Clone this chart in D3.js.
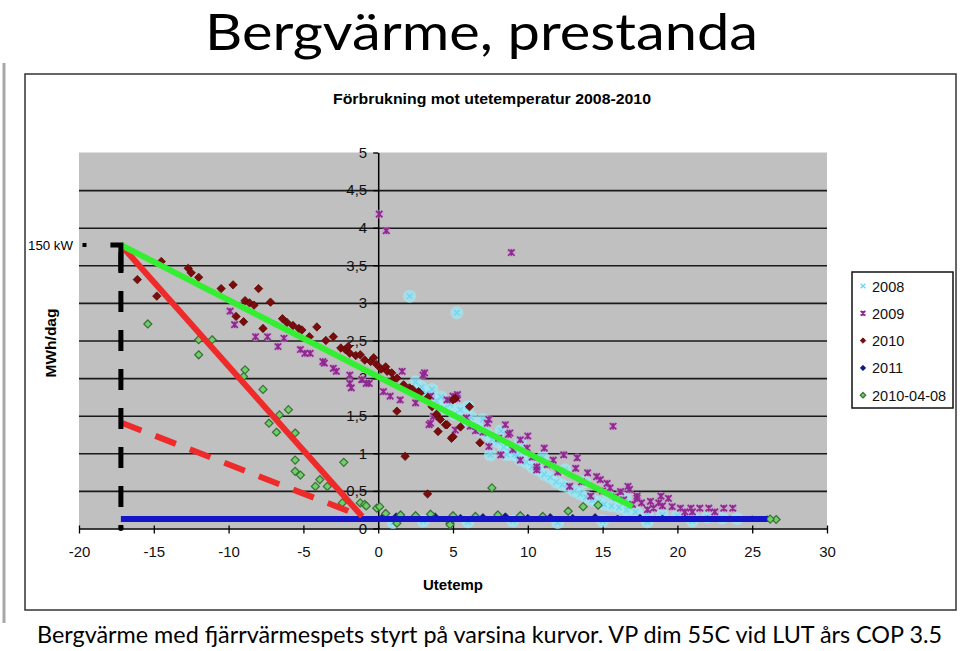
<!DOCTYPE html>
<html><head><meta charset="utf-8">
<script src="https://cdn.jsdelivr.net/npm/d3@7"></script>
<style>body{margin:0;background:#fff}svg{display:block}</style>
</head><body><svg id="c" width="960" height="651"></svg>
<script>
// ---------- data ----------
const slideTitle = "Bergvärme, prestanda";
const chartTitle = "Förbrukning mot utetemperatur 2008-2010";
const caption = "Bergvärme med fjärrvärmespets styrt på varsina kurvor. VP dim 55C vid LUT  års COP 3.5";
const xLabel = "Utetemp";
const yLabel = "MWh/dag";
const capLabel = "150 kW";
const xTicks = [-20,-15,-10,-5,0,5,10,15,20,25,30];
const yTicks = [0,0.5,1,1.5,2,2.5,3,3.5,4,4.5,5];
const gridTicks = [0.5,1,1.5,2,2.5,3,3.5,4,4.5];
const seriesNames = ["2008","2009","2010","2011","2010-04-08"];

const s2008 = [[2.1,3.09],[5.26,2.87],[2.5,1.95],[2.9,1.88],[3.2,1.80],[3.6,1.85],[3.9,1.70],[4.2,1.75],[4.4,1.60],[4.8,1.65],[5.1,1.52],[5.5,1.58],[5.8,1.42],[6.2,1.48],[6.5,1.35],[6.9,1.30],[7.3,1.25],[7.6,1.18],[8.0,1.15],[8.4,1.08],[8.8,1.02],[9.1,0.98],[9.5,0.92],[9.9,0.88],[10.3,0.82],[10.7,0.78],[11.1,0.72],[11.5,0.68],[11.9,0.62],[12.3,0.58],[12.7,0.55],[13.1,0.50],[13.5,0.46],[13.9,0.42],[14.3,0.38],[14.7,0.35],[15.1,0.32],[15.6,0.30],[16.1,0.28],[16.6,0.25],[17.2,0.22],[18.0,0.20],[19.0,0.18],[20.0,0.17],[21.0,0.16],[22.0,0.15],[23.0,0.14],[24.0,0.13],[1.0,0.08],[3.0,0.10],[6.0,0.09],[9.0,0.10],[12.0,0.08],[15.0,0.10],[18.0,0.09],[21.0,0.10],[7.5,0.98],[8.6,0.98],[9.3,0.97],[6.0,1.62],[7.0,1.45],[8.2,1.30],[9.5,1.15],[11.0,0.95],[12.5,0.78],[13.8,0.62],[15.3,0.48],[16.5,0.40]];
const s2009 = [[0.07,4.18],[0.54,3.96],[8.9,3.67],[15.7,1.36],[-9.9,2.89],[-9.6,2.71],[-8.2,2.55],[-7.4,2.55],[-6.7,2.42],[-6.3,2.53],[-5.2,2.38],[-4.9,2.33],[-4.55,2.33],[-3.7,2.22],[-3.6,2.20],[-3.0,2.13],[-2.8,2.09],[-1.9,1.93],[-1.9,2.04],[-1.8,1.87],[-1.1,1.98],[-0.8,1.93],[-0.6,1.93],[0.35,1.82],[0.8,1.76],[1.47,1.71],[1.6,2.09],[2.5,1.67],[3.0,2.04],[3.1,2.07],[3.4,1.38],[3.5,1.76],[3.5,1.40],[3.7,1.49],[4.6,1.71],[5.0,1.76],[5.15,1.31],[5.26,1.73],[5.3,1.78],[5.9,1.47],[6.15,1.36],[7.3,1.40],[7.4,1.45],[7.4,1.09],[8.05,1.20],[8.2,0.98],[8.5,1.38],[8.7,1.25],[8.8,1.27],[9.5,1.18],[9.5,0.91],[10.0,1.23],[9.95,1.07],[10.6,0.82],[10.6,0.78],[11.1,1.07],[11.7,0.91],[12.4,0.98],[12.8,0.56],[13.3,0.94],[13.2,0.80],[14.0,0.74],[14.2,0.43],[14.6,0.69],[14.85,0.65],[15.3,0.60],[15.5,0.54],[16.2,0.49],[16.7,0.56],[16.8,0.52],[17.3,0.43],[17.3,0.40],[17.6,0.34],[18.0,0.25],[18.2,0.36],[18.4,0.27],[18.75,0.34],[18.9,0.43],[19.4,0.40],[19.65,0.29],[20.2,0.27],[20.9,0.27],[21.5,0.27],[22.1,0.27],[23.1,0.27],[23.7,0.27],[6.5,1.30],[7.0,1.28],[9.0,1.05],[10.3,0.95],[11.3,0.85],[12.0,0.75],[13.6,0.62],[15.0,0.50],[15.9,0.42],[16.4,0.38],[17.0,0.32],[19.0,0.30],[20.5,0.22],[21.0,0.22],[22.5,0.22]];
const s2010 = [[-16.1,3.31],[-14.5,3.55],[-14.8,3.09],[-12.7,3.46],[-12.5,3.40],[-12.0,3.34],[-10.5,3.19],[-9.7,3.24],[-8.0,3.19],[-8.9,3.03],[-8.6,3.00],[-8.3,2.97],[-7.2,3.01],[-9.5,2.82],[-9.0,2.75],[-7.7,2.66],[-6.4,2.79],[-6.1,2.74],[-5.7,2.70],[-5.3,2.66],[-5.1,2.64],[-4.1,2.68],[-4.6,2.55],[-3.5,2.50],[-3.0,2.55],[-2.5,2.40],[-2.2,2.38],[-2.0,2.42],[-1.9,2.33],[-1.5,2.30],[-1.2,2.31],[-0.9,2.24],[-0.5,2.22],[-0.3,2.27],[-0.1,2.18],[0.2,2.12],[0.5,2.15],[0.6,2.09],[0.9,2.07],[1.0,1.98],[1.25,2.00],[1.7,1.91],[2.1,1.87],[2.3,1.85],[2.7,1.82],[2.8,1.80],[3.3,1.74],[3.6,1.62],[3.9,1.52],[1.25,1.56],[4.0,1.29],[4.5,1.38],[4.9,1.20],[5.0,1.22],[5.15,1.73],[5.0,1.71],[5.5,1.35],[6.1,1.62],[6.8,1.14],[1.8,0.96],[4.15,1.45],[4.6,1.38],[3.3,0.46]];
const s2011 = [[0.3,0.16],[1.2,0.17],[2.5,0.15],[3.8,0.17],[5.5,0.15],[7.0,0.16],[8.5,0.17],[10.0,0.15],[11.5,0.16],[13.0,0.15],[14.5,0.16],[16.0,0.14],[17.5,0.15],[19.0,0.14],[20.5,0.14],[22.0,0.13],[23.5,0.13],[25.0,0.13],[26.0,0.13]];
const s20100408 = [[-15.4,2.72],[-12.0,2.51],[-11.1,2.51],[-12.0,2.31],[-8.9,2.11],[-9.0,2.02],[-7.7,1.85],[-6.0,1.58],[-6.6,1.51],[-7.3,1.40],[-6.8,1.28],[-5.55,1.27],[-5.55,0.91],[-5.55,0.76],[-5.2,0.71],[-2.3,0.88],[-3.9,0.65],[-4.2,0.56],[-3.4,0.56],[-2.4,0.34],[-1.2,0.34],[-0.9,0.32],[-0.1,0.27],[0.1,0.29],[-0.8,0.30],[1.25,0.07],[4.8,0.07],[7.6,0.54],[13.7,0.29],[14.7,0.31],[12.7,0.23],[4.8,0.05],[26.6,0.12],[26.2,0.125],[0.5,0.20],[1.5,0.18],[2.5,0.17],[3.5,0.19],[5.0,0.17],[6.5,0.16],[8.0,0.18],[9.5,0.17],[11.0,0.16]];

// annotation lines (temperature, MWh/dag)
const capLine = [[-17.9,3.77],[-17.2,3.77],[-17.2,3.42]];
const capDashLine = [[-17.2,3.77],[-17.2,0]];
const greenLine = [[-17.2,3.77],[17.0,0.29]];
const redLine = [[-17.2,3.77],[-1.07,0.16]];
const redDashLine = [[-17.2,1.41],[-1.07,0.16]];
const blueLine = [[-17.2,0.125],[26.0,0.125]];
const capMarker = [-19.8,3.77];

// ---------- drawing ----------
const svg = d3.select("#c");
const F = "'Liberation Sans', Arial, sans-serif";
const plot = {l:79, r:827, t:152.5, b:528.5};
const x = d3.scaleLinear().domain([-20,30]).range([plot.l, plot.r]);
const y = d3.scaleLinear().domain([0,5]).range([plot.b, plot.t]);

svg.append("rect").attr("width",960).attr("height",651).attr("fill","#fff");
svg.append("line").attr("x1",4).attr("x2",4).attr("y1",63).attr("y2",623)
  .attr("stroke","#a8a8a8").attr("stroke-width",3);

// slide title
svg.append("text").text(slideTitle).attr("x",205).attr("y",49.5)
  .attr("font-family","Lato, 'Open Sans', sans-serif").attr("font-size",50)
  .attr("textLength",553).attr("lengthAdjust","spacingAndGlyphs").attr("fill","#000");

// chart frame
svg.append("rect").attr("x",25).attr("y",74).attr("width",931).attr("height",536)
  .attr("fill","#fff").attr("stroke","#333").attr("stroke-width",1.5);

svg.append("text").text(chartTitle).attr("x",333).attr("y",104)
  .attr("font-family",F).attr("font-weight","bold").attr("font-size",15)
  .attr("textLength",318).attr("lengthAdjust","spacingAndGlyphs");

// plot area
svg.append("rect").attr("x",plot.l).attr("y",plot.t).attr("width",plot.r-plot.l).attr("height",plot.b-plot.t)
  .attr("fill","#c0c0c0");

// gridlines
const grid = svg.append("g").attr("transform",`translate(${plot.l},0)`)
  .call(d3.axisLeft(y).tickValues(gridTicks).tickSize(-(plot.r-plot.l)).tickFormat(""));
grid.select(".domain").remove();
grid.selectAll("line").attr("stroke","#1a1a1a").attr("stroke-width",1.6);

// y axis at x = 0
const yAx = svg.append("g").attr("transform",`translate(${x(0)},0)`)
  .call(d3.axisLeft(y).tickValues(yTicks).tickSize(5).tickSizeOuter(0).tickPadding(6)
    .tickFormat(d => String(d).replace(".", ",")));
yAx.select(".domain").attr("stroke","#000").attr("stroke-width",1.5);
yAx.selectAll("line").attr("stroke","#000").attr("stroke-width",1.3);
yAx.selectAll("text").attr("font-family",F).attr("font-size",15).attr("fill","#111");

// x axis at y = 0
const xAx = svg.append("g").attr("transform",`translate(0,${y(0)})`)
  .call(d3.axisBottom(x).tickValues(xTicks).tickSize(5).tickSizeOuter(0).tickPadding(13)
    .tickFormat(d => String(d)));
xAx.select(".domain").attr("stroke","#000").attr("stroke-width",1.6);
xAx.selectAll("line").attr("y1",-3).attr("stroke","#000").attr("stroke-width",1.3);
xAx.selectAll("text").attr("font-family",F).attr("font-size",15).attr("fill","#111");

// symbol types
const symX = {draw(c,s){const r=Math.sqrt(s)/2;c.moveTo(-r,-r);c.lineTo(r,r);c.moveTo(r,-r);c.lineTo(-r,r);}};
const symStar = {draw(c,s){const r=Math.sqrt(s)/2;c.moveTo(-r,-r);c.lineTo(r,r);c.moveTo(r,-r);c.lineTo(-r,r);c.moveTo(0,-r);c.lineTo(0,r);}};
const symDiamond = {draw(c,s){const r=Math.sqrt(s)/2;c.moveTo(0,-r);c.lineTo(r,0);c.lineTo(0,r);c.lineTo(-r,0);c.closePath();}};

const styles = {
  "2008": {data:s2008, type:symX, size:30, fill:"none", stroke:"#6fd8ee", sw:1.4, halo:"#9de9f6", hr:6.5, ho:0.7},
  "2009": {data:s2009, type:symStar, size:42, fill:"none", stroke:"#8e2a8e", sw:1.7, halo:"#cf98d6", hr:4.5, ho:0.55},
  "2010": {data:s2010, type:symDiamond, size:70, fill:"#7a0c0c", stroke:"#5a0606", sw:0.8},
  "2011": {data:s2011, type:symDiamond, size:36, fill:"#0a1a8a", stroke:"#06105a", sw:0.6},
  "2010-04-08": {data:s20100408, type:symDiamond, size:64, fill:"#6fd06a", stroke:"#3a6e36", sw:1.2}
};
const pts = svg.append("g");
["2008","2009","2010","2011","2010-04-08"].forEach(k => {
  const st = styles[k];
  if (st.halo) {
    pts.append("g").selectAll("circle").data(st.data).join("circle")
      .attr("cx",d=>x(d[0])).attr("cy",d=>y(d[1])).attr("r",st.hr)
      .attr("fill",st.halo).attr("opacity",st.ho);
  }
  pts.append("g").selectAll("path").data(st.data).join("path")
    .attr("transform",d=>`translate(${x(d[0])},${y(d[1])})`)
    .attr("d",d3.symbol().type(st.type).size(st.size))
    .attr("fill",st.fill).attr("stroke",st.stroke).attr("stroke-width",st.sw);
});

// annotation lines
const line = d3.line().x(d=>x(d[0])).y(d=>y(d[1]));
svg.append("path").attr("d",line(blueLine)).attr("stroke","#1414c8").attr("stroke-width",6).attr("fill","none");
svg.append("path").attr("d",line(redDashLine)).attr("stroke","#ee2a2a").attr("stroke-width",6)
  .attr("stroke-dasharray","22 15").attr("fill","none");
svg.append("path").attr("d",line(redLine)).attr("stroke","#ee2a2a").attr("stroke-width",6).attr("fill","none");
svg.append("path").attr("d",line(greenLine)).attr("stroke","#33ee33").attr("stroke-width",6).attr("fill","none");
svg.append("path").attr("d",line(capLine)).attr("stroke","#000").attr("stroke-width",5).attr("fill","none");
svg.append("path").attr("d",line(capDashLine)).attr("stroke","#000").attr("stroke-width",5)
  .attr("stroke-dasharray","21 18").attr("stroke-dashoffset",32).attr("fill","none");
svg.append("circle").attr("cx",x(capDashLine[1][0])).attr("cy",y(0)).attr("r",2.5).attr("fill","#000");
svg.append("rect").attr("x",x(capMarker[0])+0.5).attr("y",y(capMarker[1])-2).attr("width",4).attr("height",4).attr("fill","#000");
svg.append("text").text(capLabel).attr("x",28).attr("y",y(capMarker[1])+5)
  .attr("font-family",F).attr("font-size",13.5).attr("textLength",45).attr("lengthAdjust","spacingAndGlyphs");

// axis titles
svg.append("text").text(xLabel).attr("x",(plot.l+plot.r)/2).attr("y",590).attr("text-anchor","middle")
  .attr("font-family",F).attr("font-weight","bold").attr("font-size",15);
svg.append("text").text(yLabel).attr("transform","translate(56,343) rotate(-90)").attr("text-anchor","middle")
  .attr("font-family",F).attr("font-weight","bold").attr("font-size",15.5);

// legend
const lg = svg.append("g");
lg.append("rect").attr("x",852).attr("y",272).attr("width",101).attr("height",136)
  .attr("fill","#fff").attr("stroke","#111").attr("stroke-width",1.5);
seriesNames.forEach((k,i) => {
  const st = styles[k];
  const cy = 286 + i*27.3;
  lg.append("path").attr("transform",`translate(863,${cy})`)
    .attr("d",d3.symbol().type(st.type).size(k==="2008"||k==="2009"?22:30))
    .attr("fill",st.fill).attr("stroke",st.stroke).attr("stroke-width",st.sw);
  lg.append("text").text(k).attr("x",872).attr("y",cy+5.5)
    .attr("font-family",F).attr("font-size",14.5).attr("fill","#111");
});

// caption
svg.append("text").text(caption).attr("x",37).attr("y",643)
  .attr("font-family","Lato, 'Open Sans', sans-serif").attr("font-size",23.5)
  .attr("textLength",905).attr("lengthAdjust","spacingAndGlyphs").attr("fill","#000");
</script></body></html>
